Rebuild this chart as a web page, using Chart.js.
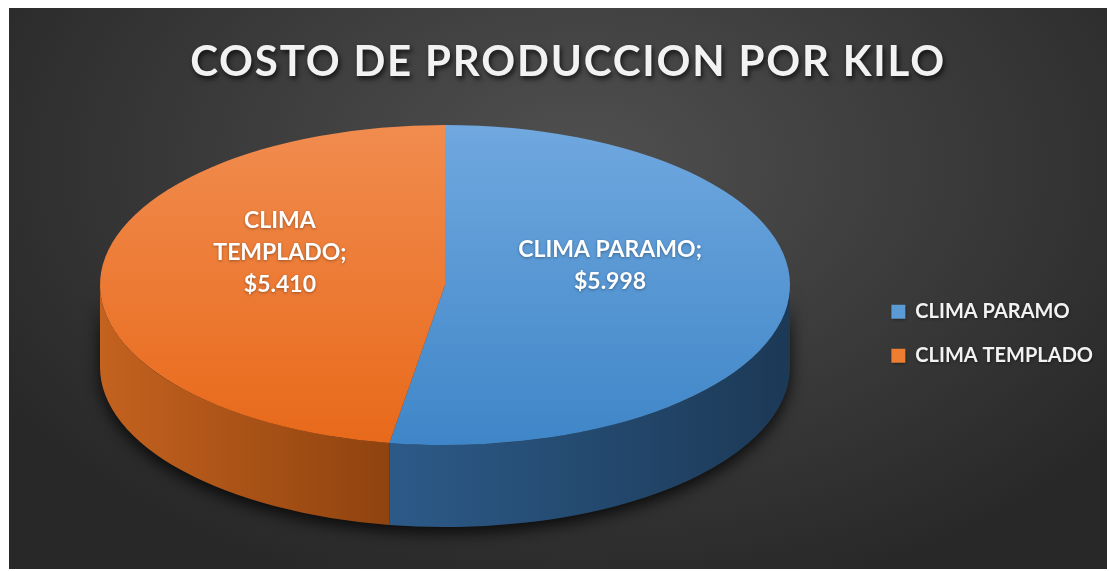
<!DOCTYPE html>
<html lang="es">
<head>
<meta charset="utf-8">
<title>Costo de produccion por kilo</title>
<script src="https://cdn.jsdelivr.net/npm/chart.js@4.4.1/dist/chart.umd.min.js"></script>
<style>
  html, body { margin: 0; padding: 0; background: #fff; }
  #frame {
    position: absolute; left: 9px; top: 8px; width: 1098px; height: 561px;
    background: radial-gradient(ellipse 62% 80% at 52% 28%, #505050 0%, #3c3c3c 50%, #282828 100%);
  }
  #frame canvas { display: block; }
</style>
</head>
<body>
<div id="frame"><canvas id="costChart" width="1098" height="561"></canvas></div>
<script>
// Data
const categories = ['CLIMA PARAMO', 'CLIMA TEMPLADO'];
const costPerKilo = [5998, 5410];

// Colours: top face (light -> dark), side wall (light -> dark), legend squares
const topLight = ['#70a8df', '#f18c4f'];
const topDark = ['#3f86c8', '#e8691a'];
const sideLight = ['#2c5a88', '#c4621f'];
const sideDark = ['#1c3956', '#8f430f'];
const legendColors = ['#5b9bd5', '#ed7d31'];

// where the tilted pie sits on the canvas
const PIE = { cx: 436, cy: 277, rx: 345, ry: 160, depth: 82, labelAt: 0.48, labelLift: 26 };

function money(v) {
    return '$' + String(v).replace(/\B(?=(\d{3})+(?!\d))/g, '.');
}

function wallPath(ctx, a0, a1) {
    const { cx, cy, rx, ry, depth } = PIE;
    ctx.beginPath();
    ctx.ellipse(cx, cy, rx, ry, 0, a0, a1);
    ctx.lineTo(cx + rx * Math.cos(a1), cy + depth + ry * Math.sin(a1));
    ctx.ellipse(cx, cy + depth, rx, ry, 0, a1, a0, true);
    ctx.closePath();
}

function wrapWords(ctx, text, maxWidth) {
    const words = text.split(' ');
    const lines = [];
    let line = '';
    words.forEach(w => {
        const test = line ? line + ' ' + w : w;
        if (line && ctx.measureText(test).width > maxWidth) {
            lines.push(line);
            line = w;
        } else {
            line = test;
        }
    });
    lines.push(line);
    return lines;
}

// Side wall + squashed top face + labels
const pie3d = {
    id: 'pie3d',
    beforeDatasetsDraw(chart) {
        const ctx = chart.ctx;
        const arcs = chart.getDatasetMeta(0).data;
        if (!arcs.length) return;
        const { cx, cy, rx, ry } = PIE;

        ctx.save();
        // soft shadow under the pie
        ctx.save();
        ctx.shadowColor = 'rgba(0,0,0,0.8)';
        ctx.shadowBlur = 16;
        ctx.shadowOffsetY = 6;
        ctx.fillStyle = '#1e1e1e';
        wallPath(ctx, 0, Math.PI);
        ctx.fill();
        ctx.restore();

        arcs.forEach((arc, i) => {
            [-2 * Math.PI, 0, 2 * Math.PI].forEach(shift => {
                const a0 = Math.max(arc.startAngle + shift, 0);
                const a1 = Math.min(arc.endAngle + shift, Math.PI);
                if (a1 <= a0) return;
                const g = ctx.createLinearGradient(cx + rx * Math.cos(a1), 0, cx + rx * Math.cos(a0), 0);
                g.addColorStop(0, sideLight[i]);
                g.addColorStop(1, sideDark[i]);
                ctx.fillStyle = g;
                wallPath(ctx, a0, a1);
                ctx.fill();
            });
        });

        // top face: chart.js draws the arcs, we squash them into the ellipse
        const a = arcs[0];
        ctx.translate(cx, cy);
        ctx.scale(rx / a.outerRadius, ry / a.outerRadius);
        ctx.translate(-a.x, -a.y);
    },
    afterDatasetsDraw(chart) {
        const ctx = chart.ctx;
        const arcs = chart.getDatasetMeta(0).data;
        if (!arcs.length) return;
        ctx.restore();

        ctx.save();
        ctx.font = 'bold 23px Lato';
        ctx.fillStyle = '#ffffff';
        ctx.textAlign = 'center';
        ctx.textBaseline = 'middle';
        ctx.shadowColor = 'rgba(0,0,0,0.35)';
        ctx.shadowBlur = 3;
        ctx.shadowOffsetY = 1;
        arcs.forEach((arc, i) => {
            const mid = (arc.startAngle + arc.endAngle) / 2;
            const x = PIE.cx + Math.cos(mid) * PIE.labelAt * PIE.rx;
            const y = PIE.cy + Math.sin(mid) * PIE.labelAt * PIE.ry - PIE.labelLift;
            const lines = wrapWords(ctx, categories[i] + ';', 196).concat(money(costPerKilo[i]));
            const lh = 32;
            const top = y - (lines.length - 1) * lh / 2;
            lines.forEach((t, j) => ctx.fillText(t, x, top + j * lh));
        });
        ctx.restore();
    }
};

// give the title and legend text a drop shadow like the original
function addShadow(box, color, blur, off, spacing) {
    if (!box || box._shadowed) return;
    const draw = box.draw;
    box.draw = function () {
        const ctx = this.ctx;
        ctx.save();
        ctx.shadowColor = color;
        ctx.shadowBlur = blur;
        ctx.shadowOffsetX = off * 0.6;
        ctx.shadowOffsetY = off;
        ctx.letterSpacing = spacing;
        draw.apply(this, arguments);
        ctx.restore();
    };
    box._shadowed = true;
}

const textShadow = {
    id: 'textShadow',
    beforeDraw(chart) {
        addShadow(chart.titleBlock, 'rgba(0,0,0,0.7)', 5, 3, '1.8px');
        addShadow(chart.legend, 'rgba(0,0,0,0.45)', 3, 1, '0px');
    }
};

const ctx = document.getElementById('costChart').getContext('2d');
const costChart = new Chart(ctx, {
    type: 'pie',
    data: {
        labels: categories,
        datasets: [{
            data: costPerKilo,
            borderWidth: 0,
            clip: false,
            backgroundColor: function (c) {
                const area = c.chart.chartArea;
                const i = c.dataIndex;
                if (!area) return topDark[i];
                const g = c.chart.ctx.createLinearGradient(0, area.top, 0, area.bottom);
                g.addColorStop(0, topLight[i]);
                g.addColorStop(1, topDark[i]);
                return g;
            }
        }]
    },
    options: {
        responsive: false,
        animation: false,
        events: [],
        layout: { padding: { left: 24, right: 4, bottom: 8 } },
        plugins: {
            title: {
                display: true,
                text: 'COSTO DE PRODUCCION POR KILO',
                color: '#f2f2f2',
                font: { family: 'Lato', weight: 'bold', size: 42 },
                padding: { top: 29, bottom: 19 }
            },
            legend: {
                position: 'right',
                fullSize: false,
                labels: {
                    boxWidth: 14,
                    boxHeight: 14,
                    padding: 24,
                    color: '#f2f2f2',
                    font: { family: 'Lato', weight: 'bold', size: 20 },
                    generateLabels: () => categories.map((c, i) => ({
                        text: c,
                        fillStyle: legendColors[i],
                        strokeStyle: legendColors[i],
                        lineWidth: 0,
                        fontColor: '#f2f2f2',
                        hidden: false,
                        index: i
                    }))
                }
            },
            tooltip: { enabled: false }
        }
    },
    plugins: [pie3d, textShadow]
});
</script>
</body>
</html>
